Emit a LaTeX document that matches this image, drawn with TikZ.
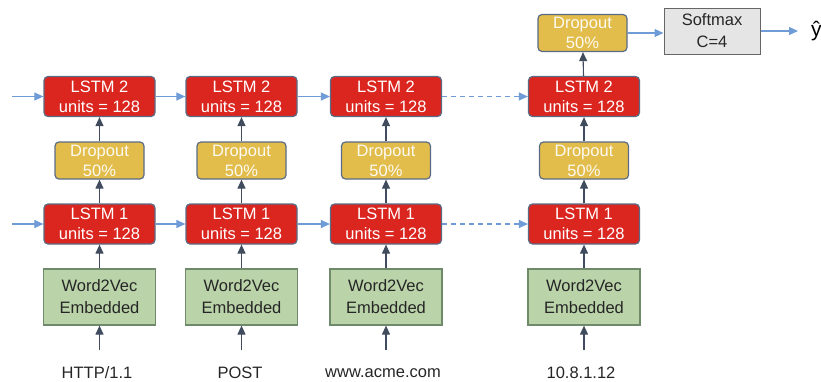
\documentclass[tikz,border=0pt]{standalone}
\usepackage{fontspec}
\setmainfont{Liberation Sans}
\usetikzlibrary{arrows.meta}
\definecolor{lstmred}{HTML}{DB2620}
\definecolor{dropy}{HTML}{E2BD4C}
\definecolor{embg}{HTML}{BAD3A9}
\definecolor{bordr}{HTML}{5A6B86}
\definecolor{gbord}{HTML}{6E8A6A}
\definecolor{smax}{HTML}{E5E5E5}
\definecolor{hblue}{HTML}{6F9BD6}
\definecolor{vdark}{HTML}{404C5E}
\tikzset{
  x=1pt,y=-1pt,
  lstm/.style={draw=bordr,line width=1.2pt,fill=lstmred,rounded corners=4pt,minimum width=111pt,minimum height=40pt,text=white,align=center,font=\fontsize{16.5}{20}\selectfont,inner sep=0pt},
  drop/.style={draw=bordr,line width=1.2pt,fill=dropy,rounded corners=4pt,minimum width=89pt,minimum height=37pt,text=white!92!dropy,align=center,font=\fontsize{16.5}{20}\selectfont,inner sep=0pt},
  emb/.style={draw=gbord,line width=1.2pt,fill=embg,minimum width=112pt,minimum height=56pt,text=black!85,align=center,font=\fontsize{16.5}{22}\selectfont,inner sep=0pt},
  smx/.style={draw=black!60,line width=1pt,fill=smax,minimum width=96pt,minimum height=46pt,text=black!85,align=center,font=\fontsize{16.5}{22}\selectfont,inner sep=0pt},
  lbl/.style={font=\fontsize{16.5}{18}\selectfont,text=black!85,inner sep=0pt},
  harr/.style={draw=hblue,line width=1.1pt,-{Triangle[length=9pt,width=8pt]}},
  hdash/.style={harr,dash pattern=on 5pt off 4pt},
  varr/.style={draw=vdark,line width=1.1pt,-{Triangle[length=9pt,width=8pt]}},
}
\begin{document}
\begin{tikzpicture}
\useasboundingbox (0,0) rectangle (821,381);
% columns
\foreach \i/\x in {1/99.5,2/241.5,3/386,4/584}{
  \node[lstm] (ltwo\i) at (\x,96.5) {LSTM 2\\units = 128};
  \node[drop] (dr\i) at (\x,160.5) {Dropout\\50\%};
  \node[lstm] (lone\i) at (\x,224) {LSTM 1\\units = 128};
  \node[emb] (em\i) at (\x,297) {Word2Vec\\Embedded};
  \coordinate (in\i) at (\x,350);
  \draw[varr] (in\i) -- (em\i.south);
  \draw[varr] (em\i) -- (lone\i);
  \draw[varr] (lone\i) -- (dr\i);
  \draw[varr] (dr\i) -- (ltwo\i);
}
\node[lbl] (t1) at (97,373) {HTTP/1.1};
\node[lbl] (t2) at (240,373) {POST};
\node[lbl] (t3) at (383,373) {www.acme.com};
\node[lbl] (t4) at (581,373) {10.8.1.12};
% top
\node[drop] (dtop) at (582.5,33) {Dropout\\50\%};
\node[smx] (sm) at (712,31) {Softmax\\C=4};
\node[font=\fontsize{21}{22}\selectfont,anchor=west,inner sep=0pt] (yh) at (811,31) {ŷ};
\draw[varr] (ltwo4) -- (dtop);
\draw[harr] (dtop.east) -- (sm.west |- dtop.east);
\draw[harr,shorten >=13pt] (sm.east) -- (yh.west);
% horizontal
\coordinate (s2) at (12,96.5);
\coordinate (s1) at (12,224);
\draw[harr] (s2) -- (ltwo1);
\draw[harr] (s1) -- (lone1);
\draw[harr] (ltwo1) -- (ltwo2);
\draw[harr] (ltwo2) -- (ltwo3);
\draw[hdash] (ltwo3) -- (ltwo4);
\draw[harr] (lone1) -- (lone2);
\draw[harr] (lone2) -- (lone3);
\draw[hdash] (lone3) -- (lone4);
\end{tikzpicture}
\end{document}
